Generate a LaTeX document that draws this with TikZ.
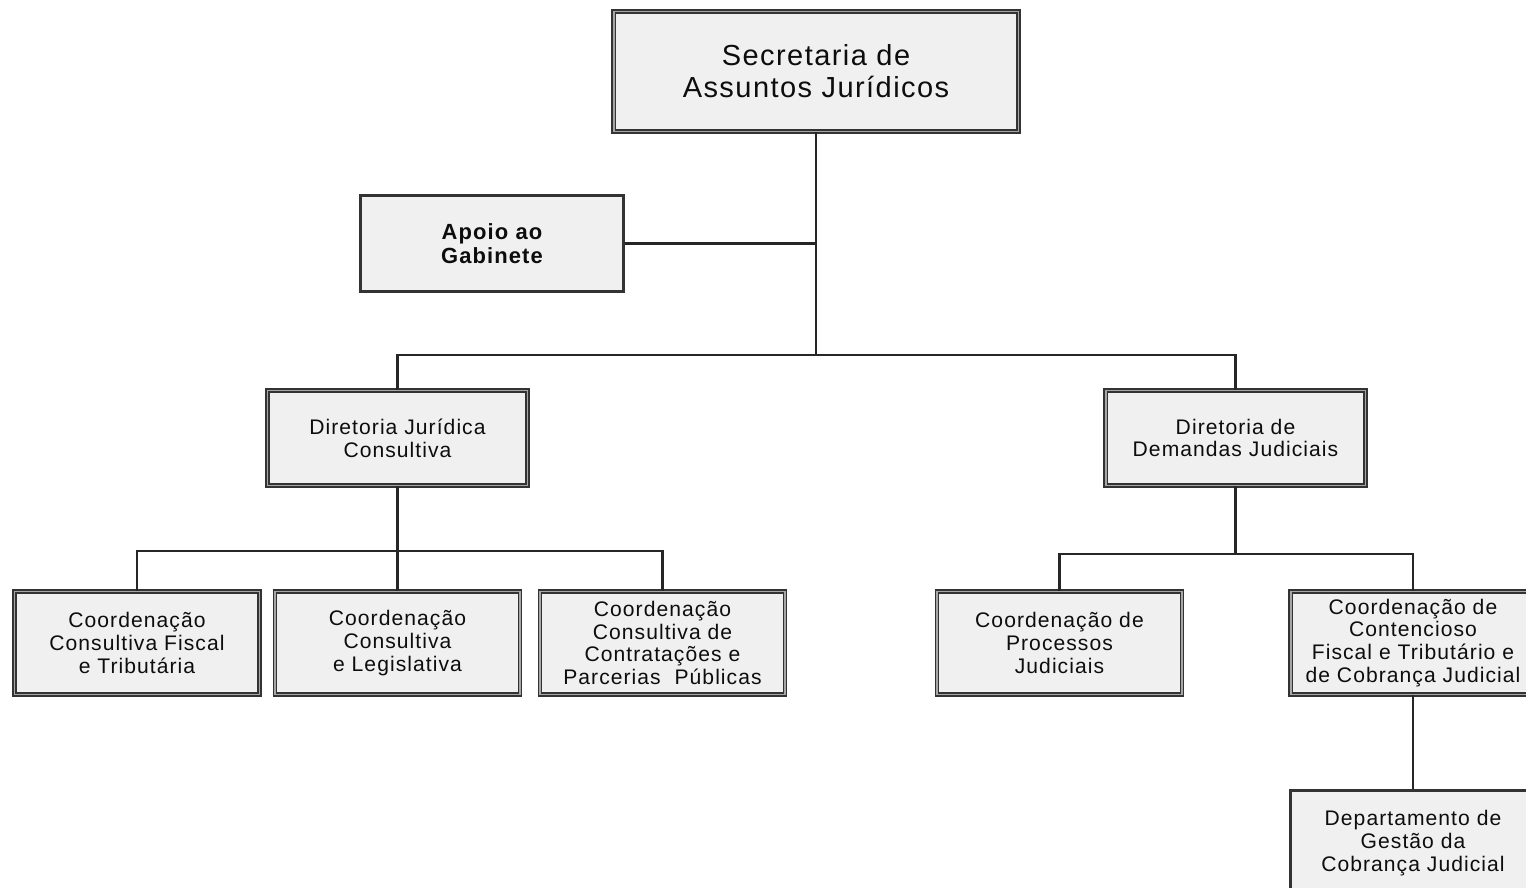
\documentclass[tikz,border=0pt]{standalone}
\usepackage{fontspec}
\setmainfont{Liberation Sans}
\newfontfamily\orgfont{Liberation Sans}[LetterSpace=5]
\usepackage{tikz}
\usetikzlibrary{calc}
\usepackage{xcolor}

\tikzset{
    unit/.style={draw=black!80, fill=black!6, text=black!95, align=center,
        inner sep=0pt, font=\orgfont\fontsize{12}{13}\selectfont},
    dbox/.style={unit, line width=0.8pt, double=black!35, double distance=1.1pt},
    sbox/.style={unit, line width=1.3pt},
    link/.style={line width=1.5pt, black!85}
}

\begin{document}
\begin{tikzpicture}[x=0.02cm,y=-0.02cm]
    \useasboundingbox (0,0) rectangle (1526,888);
    \clip (0,0) rectangle (1526,888);
    \node[dbox, minimum width=8.1cm, minimum height=2.4cm,
        font=\orgfont\fontsize{16.5}{18.1}\selectfont] (sec) at (816,71.5) {Secretaria de\\Assuntos Jurídicos};
    \node[sbox, minimum width=5.26cm, minimum height=1.92cm,
        font=\orgfont\bfseries\fontsize{12.5}{13.6}\selectfont] (apoio) at (492,243.5) {Apoio ao\\Gabinete};
    \node[dbox, minimum width=5.2cm, minimum height=1.9cm] (djc) at (397.5,438) {Diretoria Jurídica\\Consultiva};
    \node[dbox, minimum width=5.2cm, minimum height=1.9cm] (ddj) at (1235.5,438) {Diretoria de\\Demandas Judiciais};
    \node[dbox, minimum width=4.9cm, minimum height=2.06cm] (cfis) at (137,643) {Coordenação\\Consultiva Fiscal\\e Tributária};
    \node[dbox, minimum width=4.9cm, minimum height=2.06cm] (cleg) at (397.5,643) {Coordenação\\Consultiva\\e Legislativa};
    \node[dbox, minimum width=4.9cm, minimum height=2.06cm] (ccon) at (662.5,643) {Coordenação\\Consultiva de\\Contratações e\\Parcerias\ \ Públicas};
    \node[dbox, minimum width=4.9cm, minimum height=2.06cm] (cproc) at (1059.5,643) {Coordenação de\\Processos\\Judiciais};
    \node[dbox, minimum width=4.9cm, minimum height=2.06cm] (ccob) at (1413,643) {Coordenação de\\Contencioso\\Fiscal e Tributário e\\de Cobrança Judicial};
    \node[sbox, minimum width=4.9cm, minimum height=2.1cm] (dep) at (1413,843) {Departamento de\\Gestão da\\Cobrança Judicial};

    \coordinate (bus) at (816,355);
    \coordinate (busl) at (397.5,551);
    \coordinate (busr) at (1235.5,554);
    \draw[link] (sec.south) -- (bus);
    \draw[link] (apoio.east) -- (sec.south |- apoio.east);
    \draw[link] (djc.north) |- (bus) -| (ddj.north);
    \draw[link] (djc.south) -- (cleg.north);
    \draw[link] (cfis.north) |- (busl) -| (ccon.north);
    \draw[link] (ddj.south) -- (busr);
    \draw[link] (cproc.north) |- (busr) -| (ccob.north);
    \draw[link] (ccob.south) -- (dep.north);
\end{tikzpicture}
\end{document}
